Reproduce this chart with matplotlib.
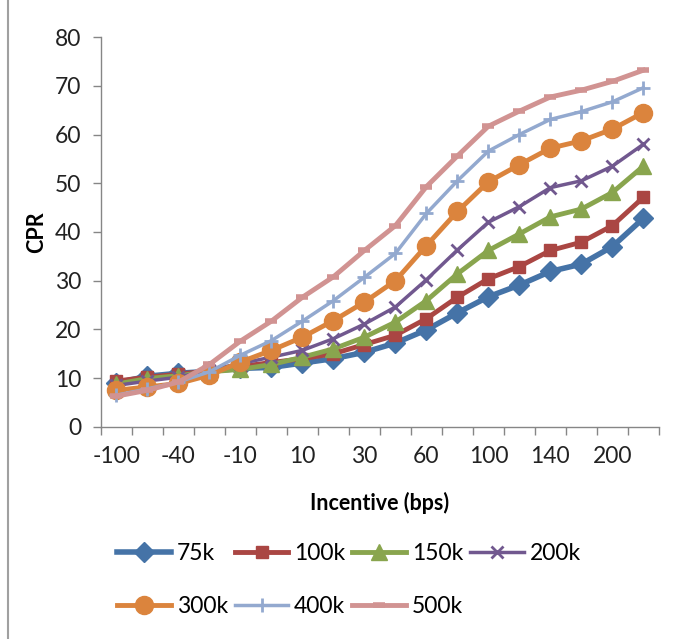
import numpy as np
import matplotlib.pyplot as plt
from matplotlib.lines import Line2D

# incentive buckets; only every other one carries a label on the axis
tick_labels = ["-100", "", "-40", "", "-10", "", "10", "", "30", "",
               "60", "", "100", "", "140", "", "200", ""]

cpr_75k = [9.0, 10.4, 11.0, 11.4, 12.0, 12.2, 13.1, 14.0, 15.3, 17.2,
           19.9, 23.4, 26.7, 29.1, 31.9, 33.4, 37.0, 42.8]
cpr_100k = [9.4, 10.2, 10.8, 11.5, 12.4, 13.2, 14.0, 15.0, 16.9, 18.8,
            22.2, 26.6, 30.4, 32.9, 36.2, 37.9, 41.3, 47.1]
cpr_150k = [8.8, 9.9, 10.5, 11.3, 11.8, 12.8, 14.3, 16.0, 18.4, 21.5,
            25.9, 31.4, 36.2, 39.6, 43.1, 44.7, 48.1, 53.5]
cpr_200k = [8.5, 9.4, 10.2, 11.7, 13.0, 14.3, 15.7, 18.1, 21.1, 24.6,
            30.2, 36.3, 42.0, 45.2, 49.1, 50.5, 53.5, 58.0]
cpr_300k = [7.5, 8.2, 8.9, 10.6, 13.3, 15.7, 18.4, 21.8, 25.6, 30.0,
            37.2, 44.2, 50.3, 53.8, 57.2, 58.7, 61.1, 64.5]
cpr_400k = [6.5, 7.8, 9.2, 11.3, 14.7, 17.7, 21.7, 25.9, 30.7, 35.6,
            43.8, 50.5, 56.6, 60.0, 63.1, 64.7, 66.7, 69.6]
cpr_500k = [6.3, 7.5, 9.2, 12.8, 17.6, 21.7, 26.6, 30.8, 36.2, 41.3,
            49.3, 55.6, 61.7, 64.8, 67.7, 69.1, 70.9, 73.2]

series = [
    ("75k", cpr_75k, "#4573A7", "D", 10, 4.0),
    ("100k", cpr_100k, "#AA4643", "s", 9, 3.5),
    ("150k", cpr_150k, "#89A54E", "^", 11, 3.5),
    ("200k", cpr_200k, "#71588F", "x", 9, 2.5),
    ("300k", cpr_300k, "#DB843D", "o", 13, 3.5),
    ("400k", cpr_400k, "#93A9CF", "+", 10, 2.5),
    ("500k", cpr_500k, "#D19392", "_", 8, 3.5),
]

plt.rcParams['font.family'] = ['Lato', 'DejaVu Sans']

fig = plt.figure(figsize=(6.73, 6.39), dpi=100)
ax = fig.add_axes([0.150, 0.332, 0.829, 0.610])

x = np.arange(len(tick_labels))
handles = []
for name, vals, col, mk, ms, lw in series:
    h, = ax.plot(x, vals, color=col, marker=mk, markersize=ms, linewidth=lw,
                 markeredgewidth=2 if mk in ("x", "+") else (4 if mk == "_" else 1),
                 markeredgecolor=col, markerfacecolor=col, label=name)
    handles.append(h)

ax.set_xlim(-0.5, len(tick_labels) - 0.5)
ax.set_ylim(0, 80)
ax.set_yticks(np.arange(0, 81, 10))
ax.set_xticks(x)
ax.set_xticklabels(tick_labels)
ax.set_xticks(np.arange(-0.5, len(tick_labels)), minor=True)
ax.tick_params(axis='x', which='major', length=0, pad=14, labelsize=16.5, colors='#222222')
ax.tick_params(axis='x', which='minor', length=6, width=1, color='#868686')
ax.tick_params(axis='y', length=6, width=1, color='#868686', labelsize=16.5,
               labelcolor='#222222', pad=8)

for side in ("top", "right"):
    ax.spines[side].set_visible(False)
for side in ("left", "bottom"):
    ax.spines[side].set_color('#868686')
    ax.spines[side].set_linewidth(1)

ax.set_ylabel("CPR", fontsize=15.5, fontweight='bold', labelpad=6)
ax.set_xlabel("Incentive (bps)", fontsize=15.5, fontweight='bold', labelpad=18)

# legend fills column by column, so interleave to get rows 75k..200k / 300k..500k
order = [0, 4, 1, 5, 2, 6, 3]
fig.legend([handles[i] for i in order], [series[i][0] for i in order],
           loc='upper left', bbox_to_anchor=(117 / 673, 1 - 543 / 639), ncol=4,
           frameon=False, fontsize=16.5, handlelength=2.35,
           handletextpad=0.25, columnspacing=0.3, borderaxespad=0,
           borderpad=0, labelspacing=1.4)

# chart-area border on the left edge
fig.add_artist(Line2D([8 / 673, 8 / 673], [0, 1], color='#a0a0a0', linewidth=1.5))

fig.savefig("out.png", dpi=100)
